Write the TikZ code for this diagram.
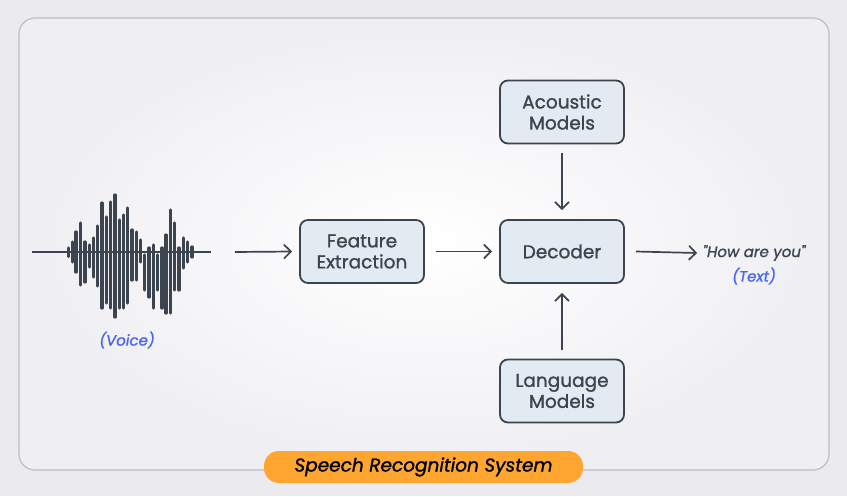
\documentclass[tikz,border=0pt]{standalone}
\usepackage{fontspec}
\setmainfont{Poppins}
\newfontfamily\boxfont[FakeBold=1.2]{Poppins}
\usetikzlibrary{arrows.meta,positioning}
\definecolor{ink}{HTML}{3C4450}
\definecolor{boxfill}{HTML}{E2EAF2}
\definecolor{voiceblue}{HTML}{4A66F0}
\definecolor{pill}{HTML}{FFA631}
\definecolor{pagebg}{HTML}{EBEAEF}
\definecolor{framebg}{HTML}{EFEFF3}
\definecolor{frameline}{HTML}{BDBDC2}
\begin{document}
\begin{tikzpicture}[x=1pt,y=-1pt,>={Straight Barb[length=7pt,width=14pt]},
 blk/.style={draw=ink,line width=1.8pt,rounded corners=8pt,fill=boxfill,minimum width=124pt,minimum height=63pt,align=center,font=\boxfont\fontsize{18.5}{20}\selectfont,text=ink},
 tag/.style={font=\boxfont\fontsize{15}{18}\selectfont\itshape},
 flow/.style={draw=ink,line width=1.7pt,->},
 bar/.style={draw=ink,line width=3.2pt,line cap=round}]
\fill[pagebg] (0,0) rectangle (847,496);
\useasboundingbox (0,0) rectangle (847,496);
\shade[inner color=white,outer color=framebg,rounded corners=16pt] (19,18) rectangle (829,470);
\draw[frameline,line width=1.2pt,rounded corners=16pt] (19,18) rectangle (829,470);
% voice waveform
\coordinate (wl) at (32,252);
\coordinate (wr) at (211,252);
\draw[ink,line width=2pt] (wl)--(wr);
\foreach \x/\t/\b in {68.3/248/256.5,72.3/242/262,76/232/272,80.7/223/285,85/242/282,89.3/245/267,
 93.3/238/277,97.7/226/286,102/203/308,106.3/217/303,110.3/202/308,115/195/317,119.3/220/308,
 123.3/215/308,127.7/208/303,132/230/280,136.3/232/280,140.3/240/262,144.7/255/290,149/248/297,
 153.3/245/308,157.7/255/290,162/248/308,166/235/313,170.3/210/313,174.7/223/290,179/248/290,
 183.3/238/268,187.7/242/262,192/247/257}{\draw[bar] (\x,\t)--(\x,\b);}
\node[tag,text=voiceblue] (voice) at (127,340) {(Voice)};
\coordinate (win) at (235,252);
% blocks
\node[blk] (feat) at (362,251.5) {Feature\\[1pt]Extraction};
\node[blk] (dec) at (562,251.5) {Decoder};
\node[blk] (ac) at (562,112) {Acoustic\\[1pt]Models};
\node[blk] (lang) at (562,391) {Language\\[1pt]Models};
\node[tag,text=ink] (out) at (754,253) {"How are you"};
\node[tag,text=voiceblue] (outlbl) at (754,276) {(Text)};
\draw[flow] (win)--([xshift=-7pt]feat.west);
\foreach \a/\b in {feat/dec}{\draw[flow] ([xshift=11pt]\a.east)--([xshift=-7pt]\b.west);}
\draw[flow] ([xshift=11pt]dec.east)--([xshift=-2pt]out.west);
\draw[flow] ([yshift=-9pt]ac.south)--([yshift=9pt]dec.north);
\draw[flow] ([yshift=9pt]lang.north)--([yshift=-9pt]dec.south);
% caption
\node[fill=pill,rounded corners=15pt,minimum width=319pt,minimum height=32pt,font=\boxfont\fontsize{18.5}{20}\selectfont\itshape,text=black] (cap) at (423.5,467) {Speech Recognition System};
\end{tikzpicture}
\end{document}
